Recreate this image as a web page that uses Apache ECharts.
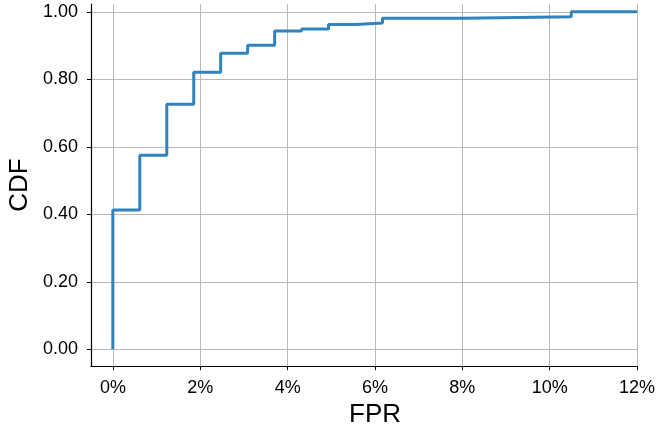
<!DOCTYPE html>
<html>
<head>
<meta charset="utf-8">
<script src="https://cdn.jsdelivr.net/npm/echarts@6/dist/echarts.min.js"></script>
<style>html,body{margin:0;padding:0;background:#fff}#c{width:659px;height:424px}</style>
</head>
<body>
<div id="c"></div>
<script>
// step positions (FPR, %) and CDF values after each step
const fprSteps = [0, 0, 0.617, 1.235, 1.852, 2.469, 3.086, 3.704, 4.321, 4.938, 5.556, 6.173, 8.025, 10.494, 12.0];
const cdfSteps = [0, 0.413, 0.575, 0.726, 0.821, 0.877, 0.901, 0.943, 0.949, 0.962, 0.967, 0.981, 0.985, 1.0, 1.0];
const xTicks = [0, 2, 4, 6, 8, 10, 12];
const yTicks = [0, 0.2, 0.4, 0.6, 0.8, 1.0];

const data = fprSteps.map((x, i) => [x, cdfSteps[i]]);
const font = '"Liberation Sans", Arial, sans-serif';
const gridColor = '#b8b8b8';

const chart = echarts.init(document.getElementById('c'), null, {renderer: 'canvas'});
const g = {outerBoundsMode: 'none', containLabel: false};
chart.setOption({
  animation: false,
  backgroundColor: '#ffffff',
  grid: [
    Object.assign({left: 91, right: 22, top: 4, bottom: 57.8}, g),
    Object.assign({left: 113, right: 22, top: 4, bottom: 57.8}, g),
    Object.assign({left: 91, right: 22, top: 11.8, bottom: 74.7}, g)
  ],
  xAxis: [
    {gridIndex: 0, type: 'value', min: -0.5, max: 12,
     axisLine: {show: true, onZero: false, lineStyle: {color: '#000', width: 1.2}},
     axisTick: {show: false}, axisLabel: {show: false}, splitLine: {show: false}},
    {gridIndex: 1, type: 'value', min: xTicks[0], max: xTicks[xTicks.length - 1], interval: 2,
     name: 'FPR', nameLocation: 'middle', nameGap: 33,
     nameTextStyle: {fontFamily: font, fontSize: 26, color: '#000', verticalAlign: 'top'},
     axisLine: {show: false, onZero: false},
     axisTick: {show: true, length: 4, lineStyle: {color: '#000', width: 1}},
     axisLabel: {show: true, margin: 13, fontFamily: font, fontSize: 18, color: '#000',
       formatter: v => v + '%'},
     splitLine: {show: true, lineStyle: {color: gridColor, width: 1}}},
    {gridIndex: 2, type: 'value', min: -0.5, max: 12, show: false}
  ],
  yAxis: [
    {gridIndex: 0, type: 'value', min: -0.05, max: 1.023,
     name: 'CDF', nameLocation: 'middle', nameGap: 58, nameRotate: 90,
     nameTextStyle: {fontFamily: font, fontSize: 26, color: '#000'},
     axisLine: {show: true, onZero: false, lineStyle: {color: '#000', width: 1.2}},
     axisTick: {show: false}, axisLabel: {show: false}, splitLine: {show: false}},
    {gridIndex: 1, type: 'value', min: -0.05, max: 1.023, show: false},
    {gridIndex: 2, type: 'value', min: yTicks[0], max: yTicks[yTicks.length - 1], interval: 0.2,
     axisLine: {show: false, onZero: false},
     axisTick: {show: true, length: 4, lineStyle: {color: '#000', width: 1}},
     axisLabel: {show: true, margin: 13, fontFamily: font, fontSize: 18, color: '#000',
       formatter: v => v.toFixed(2)},
     splitLine: {show: true, lineStyle: {color: gridColor, width: 1}}}
  ],
  series: [{
    type: 'line',
    xAxisIndex: 0, yAxisIndex: 0,
    step: 'end',
    data: data,
    showSymbol: false,
    symbol: 'none',
    clip: false,
    lineStyle: {color: '#3182bd', width: 3},
    z: 5
  }]
});
</script>
</body>
</html>
